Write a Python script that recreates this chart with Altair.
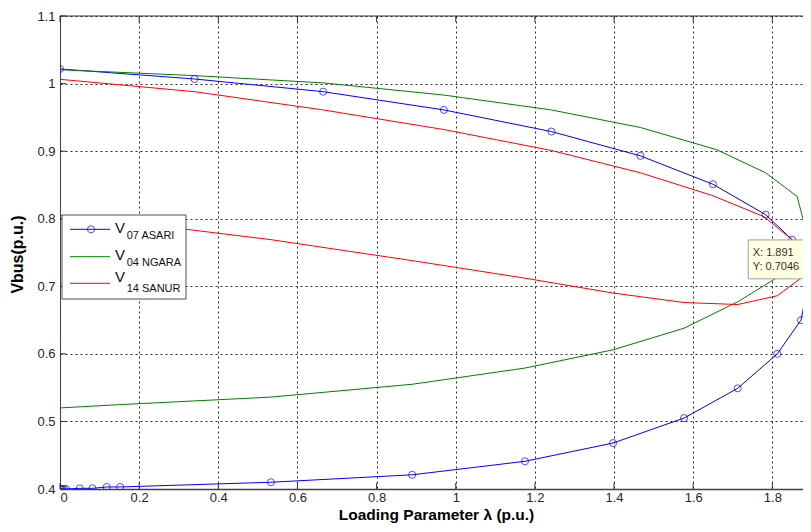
import altair as alt
import pandas as pd

# ---------------- data ----------------
series_names = ["V07 ASARI", "V04 NGARA", "V14 SANUR"]
series_colors = ["#0000ff", "#008000", "#ff0000"]

asari_x = [0, 0.34, 0.665, 0.97, 1.2417, 1.4667, 1.65, 1.783, 1.85, 1.891,
           1.8725, 1.8125, 1.7125, 1.577, 1.3975, 1.175, 0.89, 0.533, 0.152,
           0.118, 0.082, 0.05, 0.015, 0.01, 0.006, 0.003, 0.0]
asari_y = [1.0216, 1.0068, 0.988, 0.961, 0.929, 0.893, 0.851, 0.806, 0.769, 0.7046,
           0.650, 0.600, 0.549, 0.505, 0.468, 0.441, 0.421, 0.410, 0.403,
           0.403, 0.401, 0.401, 0.400, 0.400, 0.400, 0.400, 0.400]

ngara_x = [0, 0.34, 0.665, 0.97, 1.2417, 1.4667, 1.66, 1.783, 1.8625, 1.891,
           1.8725, 1.8125, 1.7125, 1.577, 1.3975, 1.175, 0.89, 0.533, 0.156, 0.0]
ngara_y = [1.0205, 1.0118, 1.001, 0.983, 0.961, 0.935, 0.902, 0.868, 0.833, 0.77,
           0.745, 0.713, 0.677, 0.638, 0.606, 0.579, 0.555, 0.536, 0.525, 0.520]

sanur_x = [0, 0.34, 0.665, 0.97, 1.2417, 1.4667, 1.65, 1.779, 1.85, 1.891,
           1.8725, 1.8125, 1.7125, 1.577, 1.3975, 1.175, 0.89, 0.533, 0.156, 0.0]
sanur_y = [1.0063, 0.988, 0.961, 0.932, 0.901, 0.868, 0.834, 0.803, 0.769, 0.74,
           0.712, 0.686, 0.673, 0.676, 0.690, 0.712, 0.738, 0.769, 0.796, 0.805]

x_ticks = [0, 0.2, 0.4, 0.6, 0.8, 1.0, 1.2, 1.4, 1.6, 1.8]
y_ticks = [0.4, 0.5, 0.6, 0.7, 0.8, 0.9, 1.0, 1.1]

tip_x = 1.891
tip_y = 0.7046

# ---------------- tables ----------------
rows = []
for name, xs_, ys_ in zip(series_names, [asari_x, ngara_x, sanur_x], [asari_y, ngara_y, sanur_y]):
    for i, (a, b) in enumerate(zip(xs_, ys_)):
        rows.append({"series": name, "x": a, "y": b, "order": i})
df = pd.DataFrame(rows)
df_asari = df[df["series"] == "V07 ASARI"]

FONT = "Liberation Sans"
W, H = 743, 473

xscale = alt.Scale(domain=[0, 1.8775], nice=False, zero=False)
yscale = alt.Scale(domain=[0.4, 1.1], nice=False, zero=False)

xaxis = alt.Axis(values=x_ticks, format=".1~f", grid=True, ticks=False,
                 gridDash=[2, 3], gridColor="#000000", gridOpacity=0.85, gridWidth=1,
                 domainColor="#404040", domainWidth=1.5,
                 labelFont=FONT, labelFontSize=13, labelColor="#262626", labelPadding=2.5,
                 title="Loading Parameter λ (p.u.)", titleFont=FONT, titleFontSize=15.5,
                 titleFontWeight="bold", titleColor="#000000",
                 titleX=376, titleY=30.5, titleBaseline="alphabetic", titleAlign="center")
yaxis = alt.Axis(values=y_ticks, format=".1~f", grid=True, ticks=False,
                 gridDash=[2, 3], gridColor="#000000", gridOpacity=0.85, gridWidth=1,
                 domainColor="#404040", domainWidth=1,
                 labelFont=FONT, labelFontSize=13, labelColor="#262626", labelPadding=5,
                 title="Vbus(p.u.)", titleFont=FONT, titleFontSize=16,
                 titleFontWeight="bold", titleColor="#000000",
                 titleX=-42.5, titleY=H / 2 + 1.5, titleAngle=-90, titleBaseline="middle",
                 titleAlign="center")

X = alt.X("x:Q", scale=xscale, axis=xaxis)
Y = alt.Y("y:Q", scale=yscale, axis=yaxis)

lines = alt.Chart(df).mark_line(clip=True, strokeWidth=1).encode(
    x=X, y=Y,
    color=alt.Color("series:N", scale=alt.Scale(domain=series_names, range=series_colors), legend=None),
    order="order:Q",
    detail="series:N",
)

markers = alt.Chart(df_asari).mark_point(clip=True, shape="circle", filled=False, size=50,
                                          color="#0000ff", strokeWidth=1).encode(x=X, y=Y)

# inward ticks (MATLAB style) and top frame line
xt = pd.DataFrame({"x": x_ticks})
yt = pd.DataFrame({"y": y_ticks})
one = pd.DataFrame({"a": [0]})
top_frame = alt.Chart(one).mark_rule(color="#333333", strokeWidth=1).encode(
    x=alt.value(0), x2=alt.value(W), y=alt.value(0))
ticks_top = alt.Chart(xt).mark_rule(color="#333333").encode(x=X, y=alt.value(0), y2=alt.value(6))
ticks_bot = alt.Chart(xt).mark_rule(color="#333333").encode(x=X, y=alt.value(H), y2=alt.value(H - 6))
ticks_left = alt.Chart(yt).mark_rule(color="#333333").encode(y=Y, x=alt.value(0), x2=alt.value(6))

# data tip
tip_box = alt.Chart(one).mark_rect(fill="#ffffe1", stroke="#a0a0a0", strokeWidth=1).encode(
    x=alt.datum(1.739, scale=xscale), x2=alt.datum(1.95), y=alt.datum(0.7686, scale=yscale), y2=alt.datum(0.711))
tip_t1 = alt.Chart(one).mark_text(text=f"X: {tip_x}", font=FONT, fontSize=11, color="#333333",
                                  align="left", baseline="alphabetic").encode(
    x=alt.datum(1.7505, scale=xscale), y=alt.datum(0.7455, scale=yscale))
tip_t2 = alt.Chart(one).mark_text(text=f"Y: {tip_y}", font=FONT, fontSize=11, color="#333333",
                                  align="left", baseline="alphabetic").encode(
    x=alt.datum(1.7505, scale=xscale), y=alt.datum(0.7243, scale=yscale))

# legend (drawn by hand for subscripts)
leg_layers = [
    alt.Chart(one).mark_rect(fill="#ffffff", stroke="#505050", strokeWidth=1).encode(
        x=alt.value(2), x2=alt.value(126), y=alt.value(199), y2=alt.value(283))
]
line_ys = [213.3, 240.7, 267.3]
v_base = [217.3, 244.0, 266.3]
sub_base = [223.3, 250.0, 276.3]
subs = ["07 ASARI", "04 NGARA", "14 SANUR"]
for i in range(3):
    leg_layers.append(alt.Chart(one).mark_rule(color=series_colors[i], strokeWidth=1).encode(
        x=alt.value(10), x2=alt.value(50), y=alt.value(line_ys[i])))
    leg_layers.append(alt.Chart(one).mark_text(text="V", font=FONT, fontSize=15, color="#111111",
                                               align="left", baseline="alphabetic").encode(
        x=alt.value(55), y=alt.value(v_base[i])))
    leg_layers.append(alt.Chart(one).mark_text(text=subs[i], font=FONT, fontSize=11, color="#111111",
                                               align="left", baseline="alphabetic").encode(
        x=alt.value(66.7), y=alt.value(sub_base[i])))
leg_layers.append(alt.Chart(one).mark_point(shape="circle", filled=False, size=50, color="#0000ff",
                                            strokeWidth=1).encode(x=alt.value(31), y=alt.value(line_ys[0])))

chart = alt.layer(
    lines, markers, top_frame, ticks_top, ticks_bot, ticks_left, tip_box, tip_t1, tip_t2, *leg_layers
).properties(
    width=W, height=H,
    autosize=alt.AutoSizeParams(type="none"),
    padding={"left": 52, "top": 8, "right": 0, "bottom": 35},
    background="#ffffff",
).configure_view(strokeWidth=0)

chart.save("out.html", embed_options={"renderer": "svg", "actions": False})
